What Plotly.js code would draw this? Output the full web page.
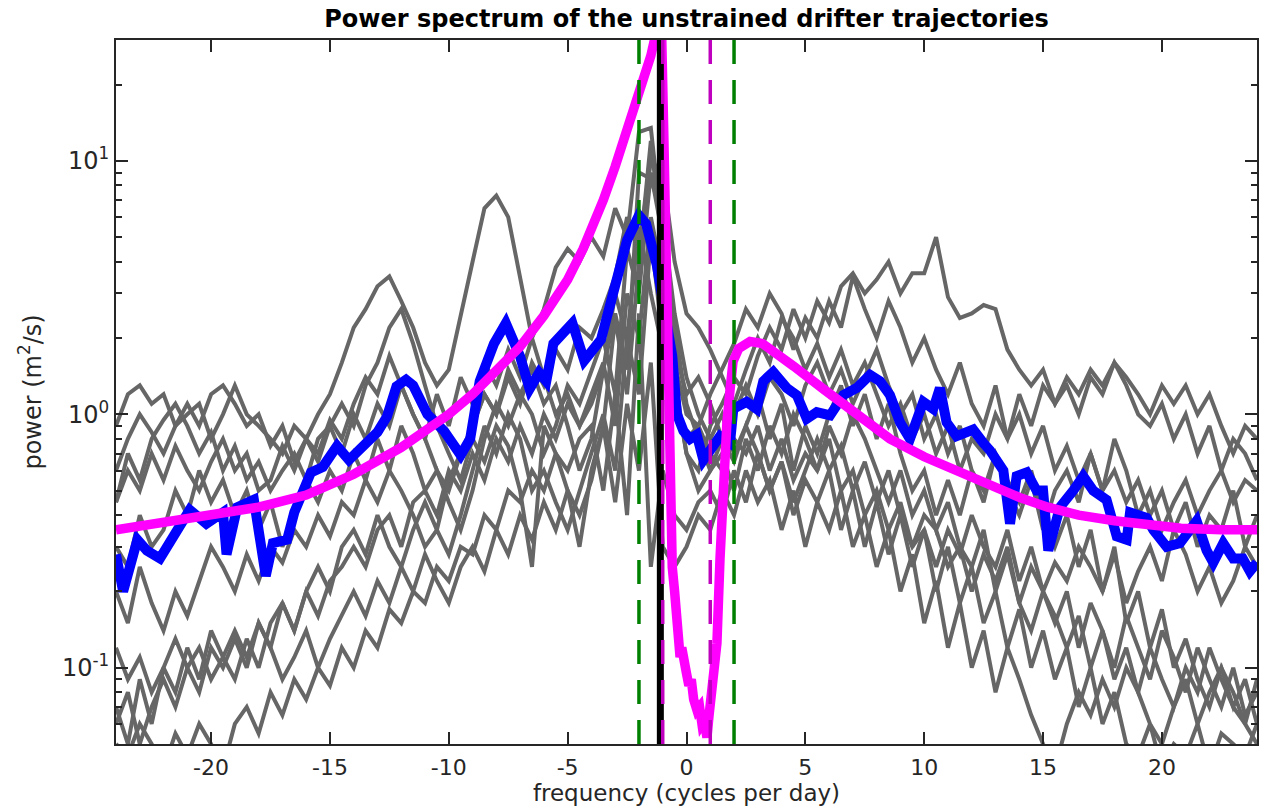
<!DOCTYPE html>
<html>
<head>
<meta charset="utf-8">
<script src="https://cdn.plot.ly/plotly-3.0.1.min.js"></script>
<style>
  html, body { margin: 0; padding: 0; background: #fff; }
  #chart { width: 1264px; height: 810px; }
  .scatterlayer .js-line { stroke-linejoin: miter; stroke-miterlimit: 3; }
</style>
</head>
<body>
<div id="chart"></div>
<script>
// ---- data ----
const freqGrid = [-24,-23.5,-23,-22.5,-22,-21.5,-21,-20.5,-20,-19.5,-19,-18.5,-18,-17.5,-17,-16.5,-16,-15.5,-15,-14.5,-14,-13.5,-13,-12.5,-12,-11.5,-11,-10.5,-10,-9.5,-9,-8.5,-8,-7.5,-7,-6.5,-6,-5.5,-5,-4.5,-4,-3.5,-3,-2.5,-2,-1.5,-1,-0.5,0,0.5,1,1.5,2,2.5,3,3.5,4,4.5,5,5.5,6,6.5,7,7.5,8,8.5,9,9.5,10,10.5,11,11.5,12,12.5,13,13.5,14,14.5,15,15.5,16,16.5,17,17.5,18,18.5,19,19.5,20,20.5,21,21.5,22,22.5,23,23.5,24];

// individual drifter spectra (gray)
const drifter1 = [0.9,1.2,1.3,1.1,1.2,0.9,1.0,1.1,0.8,1.0,
1.3,1.0,0.9,0.8,0.7,0.9,0.8,1.0,1.2,1.6,
2.2,2.6,3.2,3.5,2.8,2.2,1.6,1.3,1.5,2.5,
4.0,6.5,7.3,6.0,3.5,2.0,1.4,1.0,1.2,0.9,
1.1,1.5,3.0,2.0,5.5,3.0,1.8,1.0,0.8,0.9,
0.7,0.6,0.8,0.7,0.9,0.6,0.8,0.55,0.7,0.6,
0.8,0.5,0.6,0.4,0.5,0.35,0.45,0.3,0.4,0.35,
0.25,0.3,0.2,0.28,0.22,0.3,0.18,0.25,0.2,0.15,
0.2,0.12,0.18,0.14,0.1,0.16,0.12,0.09,0.14,0.11,
0.08,0.12,0.09,0.07,0.1,0.065,0.08];
const drifter2 = [0.45,0.6,0.5,0.7,0.55,0.75,0.6,0.5,0.65,0.8,
0.6,0.7,0.5,0.55,0.75,0.6,0.8,0.65,0.9,0.7,
1.0,0.8,1.1,0.9,1.3,1.0,0.8,1.2,0.9,1.4,
1.1,1.6,1.3,1.8,1.4,2.0,2.6,3.8,4.5,4.0,
5.0,4.2,6.5,5.0,13.0,13.5,5.0,1.6,1.0,0.9,
1.2,1.5,1.9,2.6,2.2,3.0,2.5,1.8,2.4,2.0,
2.8,2.2,3.5,2.6,2.0,2.8,2.2,1.6,2.0,1.5,
1.2,1.6,1.1,0.9,1.3,0.8,1.0,0.7,0.9,0.6,
0.75,0.55,0.7,0.5,0.6,0.45,0.55,0.4,0.5,0.35,
0.45,0.3,0.4,0.35,0.5,0.3,0.4];
const drifter3 = [0.05,0.045,0.06,0.05,0.04,0.055,0.045,0.06,0.05,0.04,
0.06,0.07,0.055,0.08,0.065,0.09,0.075,0.1,0.085,0.12,
0.1,0.14,0.12,0.17,0.15,0.2,0.18,0.25,0.22,0.3,
0.28,0.4,0.35,0.5,0.45,0.6,0.5,0.7,0.6,0.8,
0.9,0.5,1.2,0.4,2.5,0.25,0.6,0.4,0.35,0.45,
0.5,0.4,0.6,0.45,0.7,0.5,0.65,0.4,0.55,0.45,
0.6,0.35,0.5,0.3,0.45,0.28,0.4,0.25,0.35,0.2,
0.3,0.18,0.25,0.15,0.2,0.12,0.17,0.1,0.14,0.09,
0.12,0.07,0.1,0.06,0.08,0.05,0.045,0.06,0.04,0.05,
0.045,0.06,0.04,0.055,0.05,0.045,0.06];
const drifter4 = [0.3,0.25,0.4,0.3,0.35,0.5,0.4,0.6,0.45,0.55,
0.4,0.5,0.35,0.45,0.3,0.4,0.55,0.45,0.6,0.5,
0.7,0.55,0.8,0.6,0.9,0.7,0.5,0.6,0.45,0.35,
0.5,0.8,1.1,0.9,1.2,1.5,1.1,1.3,0.9,0.6,
0.8,1.5,2.5,1.5,9.0,8.5,6.0,2.5,1.4,1.0,
0.8,1.0,0.7,0.9,1.2,0.8,1.1,0.6,0.9,0.7,
1.0,1.3,0.9,1.2,0.8,1.1,0.7,0.5,0.6,0.4,
0.55,0.4,0.6,0.45,0.7,0.5,0.4,0.55,0.35,0.5,
0.6,0.45,0.7,0.5,0.8,0.6,0.4,0.5,0.35,0.45,
0.55,0.4,0.5,0.6,0.45,0.55,0.5];
const drifter5 = [0.12,0.09,0.11,0.08,0.1,0.13,0.1,0.12,0.09,0.11,
0.14,0.11,0.15,0.12,0.18,0.14,0.2,0.16,0.22,0.25,
0.3,0.25,0.35,0.4,0.3,0.45,0.5,0.4,0.6,0.5,
0.7,0.55,0.8,0.65,0.9,0.7,1.0,0.8,1.1,0.9,
1.2,1.6,0.9,3.0,2.0,6.0,3.5,1.3,0.7,0.6,
0.9,1.1,1.4,1.2,1.7,2.2,1.8,2.6,2.0,2.8,
2.3,3.2,3.6,3.0,3.4,4.0,3.0,3.6,3.6,5.0,
2.9,2.4,2.5,2.7,2.6,1.8,1.5,1.3,1.5,1.1,
1.3,1.0,1.4,1.2,1.6,1.3,1.0,0.9,1.1,0.8,
1.0,0.7,0.9,0.6,0.8,0.7,0.55];
const drifter6 = [0.6,0.8,1.0,0.85,0.7,0.9,1.1,0.9,1.2,1.3,
1.1,0.9,1.0,0.75,0.9,0.65,0.8,0.7,0.95,0.8,
1.1,1.4,1.2,1.7,1.3,1.0,0.8,0.6,0.5,0.7,
0.9,1.2,1.0,1.4,1.1,1.6,1.3,1.8,1.5,2.2,
2.0,2.6,3.5,6.0,4.5,10.0,9.0,4.0,2.5,2.2,
1.8,1.4,1.1,1.5,2.0,1.6,2.4,2.0,1.5,1.9,
1.4,1.8,1.3,1.6,1.2,0.9,1.1,0.8,1.0,0.7,
0.9,0.6,0.8,0.7,1.0,0.8,1.2,0.9,1.3,1.1,
1.4,1.2,1.5,1.3,1.6,1.4,1.2,1.0,1.3,1.1,
1.3,1.0,1.2,0.9,0.7,0.9,0.8];
const drifter7 = [0.06,0.08,0.05,0.07,0.09,0.07,0.1,0.08,0.12,0.1,
0.13,0.1,0.15,0.12,0.09,0.11,0.14,0.1,0.13,0.16,
0.2,0.16,0.22,0.18,0.25,0.2,0.28,0.22,0.18,0.25,
0.3,0.24,0.35,0.28,0.4,0.32,0.45,0.35,0.5,0.4,
0.55,0.9,0.45,1.1,0.6,1.6,0.3,0.25,0.3,0.4,
0.35,0.5,0.4,0.6,0.45,0.55,0.35,0.5,0.3,0.45,
0.35,0.5,0.3,0.4,0.25,0.35,0.2,0.28,0.15,0.22,
0.12,0.18,0.1,0.14,0.08,0.12,0.09,0.065,0.05,0.04,
0.06,0.08,0.065,0.09,0.07,0.1,0.08,0.12,0.09,0.07,
0.1,0.08,0.12,0.09,0.07,0.06,0.05];
const drifter8 = [0.2,0.15,0.25,0.18,0.14,0.2,0.16,0.22,0.3,0.25,
0.2,0.28,0.22,0.3,0.26,0.35,0.3,0.4,0.33,0.45,
0.4,0.55,0.45,0.6,0.5,0.4,0.3,0.35,0.28,0.4,
0.6,0.9,0.7,1.0,0.8,0.5,0.6,0.45,0.35,0.5,
0.7,1.0,0.6,2.0,1.2,5.0,2.0,1.4,0.7,0.5,
0.6,0.8,0.65,0.9,0.7,0.5,0.65,0.45,0.6,0.8,
0.6,0.75,0.5,0.65,0.45,0.6,0.4,0.3,0.35,0.25,
0.35,0.28,0.4,0.3,0.25,0.35,0.22,0.3,0.2,0.26,
0.22,0.3,0.25,0.2,0.28,0.18,0.24,0.3,0.22,0.35,
0.28,0.2,0.25,0.18,0.22,0.3,0.25];
const drifter9 = [0.45,0.7,0.55,0.8,0.95,1.1,0.9,0.7,0.85,0.6,
0.75,0.55,0.65,0.5,0.6,0.7,0.55,0.8,0.9,1.1,
0.9,1.3,1.6,2.2,2.6,1.9,1.3,0.9,0.7,0.55,
0.8,0.65,0.9,0.75,0.5,0.25,0.9,0.7,0.5,0.3,
0.6,0.9,2.4,1.2,4.0,12.0,4.5,1.8,1.2,1.4,
1.1,0.8,1.0,1.3,1.0,1.4,1.2,0.9,1.3,1.6,
1.2,1.5,1.1,1.4,1.8,1.3,1.0,1.2,0.8,1.0,
0.7,0.9,0.6,0.5,0.7,0.55,0.45,0.6,0.4,0.3,
0.4,0.25,0.35,0.2,0.3,0.15,0.2,0.12,0.17,0.1,
0.13,0.09,0.07,0.1,0.08,0.06,0.09];
const drifter10 = [0.07,0.05,0.09,0.06,0.1,0.08,0.12,0.09,0.14,0.11,
0.09,0.13,0.1,0.15,0.18,0.14,0.2,0.25,0.2,0.3,
0.35,0.28,0.4,0.3,0.25,0.35,0.45,0.35,0.55,0.7,
0.9,1.2,1.0,1.5,1.2,1.0,0.7,0.9,1.3,1.1,
1.5,2.0,1.2,4.5,3.0,9.0,5.0,2.2,1.1,0.8,
0.6,0.7,0.5,0.8,0.6,0.9,0.7,1.0,0.8,0.6,
0.9,0.7,1.0,0.8,0.6,0.45,0.6,0.4,0.5,0.35,
0.45,0.3,0.25,0.35,0.2,0.28,0.18,0.14,0.2,0.16,
0.12,0.16,0.1,0.14,0.09,0.12,0.08,0.06,0.05,0.07,
0.09,0.06,0.08,0.1,0.07,0.09,0.06];
const drifterSpectra = [drifter1, drifter2, drifter3, drifter4, drifter5, drifter6, drifter7, drifter8, drifter9, drifter10];

// mean spectrum (blue)
const meanFreq = [-24,-23.7,-23.1,-22.7,-22.15,-21.7,-20.9,-20.2,-19.5,-19.35,-18.9,-18.2,-17.7,-17.4,-16.8,-16.5,-15.8,-15.3,-14.7,-14.2,-13.6,-13.0,-12.6,-12.2,-11.8,-11.5,-10.9,-10.2,-9.5,-9.1,-8.7,-8.1,-7.6,-7.0,-6.6,-6.2,-5.9,-5.6,-4.8,-4.3,-3.6,-3.1,-2.5,-2.0,-1.7,-1.25,-0.83,-0.6,-0.4,-0.13,0.15,0.43,0.71,1.0,1.41,1.83,1.97,2.53,2.95,3.23,3.65,4.22,4.64,5.06,5.48,6.04,6.6,7.16,7.72,8.14,8.56,8.98,9.4,9.96,10.38,10.66,10.94,11.36,12.06,12.49,12.77,13.33,13.61,13.89,14.31,14.73,15.0,15.22,15.71,16.27,16.69,17.11,17.67,18.1,18.52,18.66,19.36,19.64,20.2,20.76,21.46,21.88,22.16,22.58,23.0,23.4,23.7,24.0];
const meanPower = [0.28,0.2,0.32,0.29,0.27,0.32,0.42,0.37,0.41,0.28,0.43,0.46,0.23,0.31,0.32,0.41,0.59,0.62,0.75,0.66,0.75,0.85,0.98,1.29,1.37,1.30,1.0,0.86,0.69,0.80,1.35,1.9,2.29,1.69,1.26,1.46,1.35,1.9,2.29,1.63,1.97,2.87,4.86,6.1,5.65,3.88,2.12,1.7,1.0,0.86,0.80,0.83,0.66,0.72,0.82,0.77,1.05,1.12,1.05,1.35,1.47,1.27,1.19,0.96,1.02,0.99,1.19,1.27,1.43,1.35,1.19,0.93,0.80,1.12,1.05,1.27,0.93,0.82,0.87,0.77,0.72,0.60,0.37,0.57,0.59,0.50,0.50,0.29,0.43,0.50,0.57,0.50,0.46,0.33,0.32,0.41,0.39,0.35,0.30,0.31,0.38,0.29,0.26,0.31,0.27,0.27,0.24,0.26];

// model spectrum (magenta)
const modelFreq = [-24,-22,-20,-18,-16,-14,-12,-11,-10,-9,-8,-7,-6,-5,-4.35,-4,-3.5,-3,-2.5,-2,-1.75,-1.5,-1.35,-1.2,-1.08,-0.95,-0.85,-0.78,-0.73,-0.69,-0.6,-0.5,-0.42,-0.35,-0.27,-0.2,-0.1,0,0.1,0.2,0.3,0.44,0.55,0.65,0.75,0.86,0.95,1.05,1.15,1.28,1.41,1.55,1.7,1.85,1.96,2.2,2.67,3.2,3.8,4.5,5.75,7,8.56,10,11.5,12.8,14,15.2,16.5,18,19.5,20.8,22.5,24];
const modelPower = [0.35,0.375,0.40,0.43,0.48,0.58,0.74,0.86,1.0,1.2,1.47,1.85,2.45,3.4,4.5,5.3,7.0,9.5,13,18,21.5,26,30,40,45,12,3.5,1.5,0.6,0.3,0.25,0.2,0.17,0.15,0.11,0.12,0.1,0.095,0.085,0.09,0.075,0.068,0.07,0.06,0.062,0.053,0.065,0.08,0.1,0.125,0.27,0.55,0.93,1.3,1.62,1.82,1.94,1.9,1.75,1.55,1.26,1.04,0.80,0.68,0.59,0.52,0.47,0.43,0.40,0.38,0.365,0.355,0.35,0.35];

// reference frequencies (vertical lines)
const inertialFreq = -1.1;
const magentaLineFreqs = [-1, 1];
const greenLineFreqs = [-2, 2];

// axis ticks
const xTickVals = [-20, -15, -10, -5, 0, 5, 10, 15, 20];
const xTickText = ['-20', '-15', '-10', '-5', '0', '5', '10', '15', '20'];
const yTickVals = [0.1, 1, 10];
const yTickText = ['10<sup>-1</sup>', '10<sup>0</sup>', '10<sup>1</sup>'];
const yMinorVals = [0.05, 0.06, 0.07, 0.08, 0.09, 0.2, 0.3, 0.4, 0.5, 0.6, 0.7, 0.8, 0.9, 2, 3, 4, 5, 6, 7, 8, 9, 20, 30];

// ---- chart ----
const FONT = 'DejaVu Sans, Liberation Sans, Arial, sans-serif';
const AX = '#262626';

const traces = [];
drifterSpectra.forEach(function (vals) {
  traces.push({
    x: freqGrid, y: vals, type: 'scatter', mode: 'lines',
    line: { color: '#666666', width: 4 },
    hoverinfo: 'skip', showlegend: false
  });
});
traces.push({
  x: meanFreq, y: meanPower, type: 'scatter', mode: 'lines',
  line: { color: '#0000ff', width: 10 },
  hoverinfo: 'skip', showlegend: false
});
traces.push({
  x: modelFreq, y: modelPower, type: 'scatter', mode: 'lines',
  line: { color: '#ff00ff', width: 9.5 },
  hoverinfo: 'skip', showlegend: false
});

const shapes = [];
shapes.push({ type: 'line', xref: 'x', yref: 'paper', x0: inertialFreq, x1: inertialFreq, y0: 0, y1: 1,
  line: { color: '#000000', width: 7 }, layer: 'above' });
magentaLineFreqs.forEach(function (f) {
  shapes.push({ type: 'line', xref: 'x', yref: 'paper', x0: f, x1: f, y0: 0, y1: 1,
    line: { color: '#bf00bf', width: 3.5, dash: '24px,16px' }, layer: 'above' });
});
greenLineFreqs.forEach(function (f) {
  shapes.push({ type: 'line', xref: 'x', yref: 'paper', x0: f, x1: f, y0: 0, y1: 1,
    line: { color: '#008000', width: 3.5, dash: '24px,16px' }, layer: 'above' });
});

const layout = {
  width: 1264, height: 810,
  margin: { l: 116, r: 7, t: 40, b: 66, pad: 0 },
  paper_bgcolor: '#ffffff', plot_bgcolor: '#ffffff',
  showlegend: false,
  title: {
    text: '<b>Power spectrum of the unstrained drifter trajectories</b>',
    font: { family: FONT, size: 24, color: '#000000' },
    x: 0.5, xref: 'paper', xanchor: 'center',
    y: 1 - 19 / 810, yref: 'container', yanchor: 'middle'
  },
  xaxis: {
    range: [-24, 24], type: 'linear',
    tickmode: 'array', tickvals: xTickVals, ticktext: xTickText,
    ticks: 'inside', ticklen: 12, tickwidth: 2, tickcolor: AX,
    showline: true, linewidth: 2, linecolor: AX, mirror: 'ticks',
    showgrid: false, zeroline: false,
    ticklabelstandoff: 3,
    tickfont: { family: FONT, size: 22, color: AX },
    title: { text: 'frequency (cycles per day)', font: { family: FONT, size: 23, color: AX }, standoff: 0 },
    automargin: false
  },
  yaxis: {
    type: 'log', range: [Math.log10(0.05), Math.log10(30)],
    tickmode: 'array', tickvals: yTickVals, ticktext: yTickText,
    ticks: 'inside', ticklen: 12, tickwidth: 2, tickcolor: AX,
    minor: { tickmode: 'array', tickvals: yMinorVals, ticks: 'inside', ticklen: 6, tickwidth: 2, tickcolor: AX, showgrid: false },
    showline: true, linewidth: 2, linecolor: AX, mirror: 'ticks',
    showgrid: false, zeroline: false,
    ticklabelstandoff: 0,
    tickfont: { family: FONT, size: 24, color: AX },
    title: { text: 'power (m<sup>2</sup>/s)', font: { family: FONT, size: 24, color: AX }, standoff: 14 },
    automargin: false
  },
  shapes: shapes
};

Plotly.newPlot('chart', traces, layout, { staticPlot: true, displayModeBar: false });
</script>
</body>
</html>
